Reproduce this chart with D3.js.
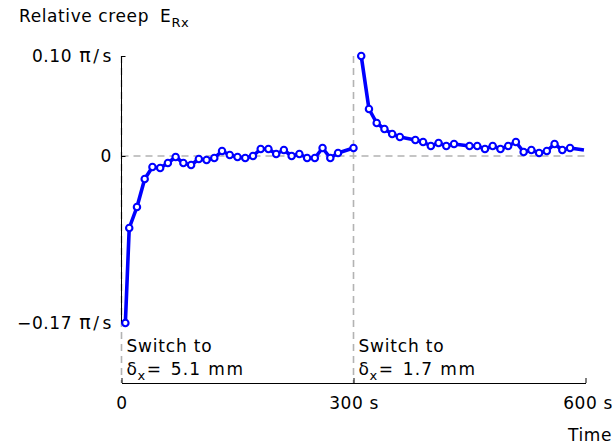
<!DOCTYPE html>
<html>
<head>
<meta charset="utf-8">
<script src="https://cdn.jsdelivr.net/npm/d3@7"></script>
<style>
  body { margin: 0; background: #fff; }
  text { font-family: "DejaVu Sans", sans-serif; fill: #000; }
</style>
</head>
<body>
<svg id="chart" width="613" height="447"></svg>
<script>
// Relative creep after each stiffness switch, sampled every 10 s
const phase1Times  = [5, 10, 20, 30, 40, 50, 60, 70, 80, 90, 100, 110, 120, 130, 140, 150,
                      160, 170, 180, 190, 200, 210, 220, 230, 240, 250, 260, 270, 280, 300];
const phase1Values = [-0.167, -0.072, -0.051, -0.023, -0.011, -0.012, -0.007, -0.001, -0.007, -0.009,
                      -0.003, -0.004, -0.002, 0.005, 0.001, -0.001, -0.002, 0.000, 0.007, 0.007,
                      0.002, 0.006, 0.000, 0.002, -0.002, -0.002, 0.008, -0.002, 0.003, 0.008];

const phase2Times  = [310, 320, 330, 340, 350, 360, 380, 390, 400, 410, 420, 430, 450, 460, 470,
                      480, 490, 500, 510, 520, 530, 540, 550, 560, 570, 580, 598];
const phase2Values = [0.100, 0.047, 0.033, 0.027, 0.022, 0.019, 0.016, 0.014, 0.010, 0.013, 0.010,
                      0.012, 0.010, 0.010, 0.007, 0.010, 0.007, 0.010, 0.014, 0.004, 0.006, 0.003,
                      0.005, 0.012, 0.006, 0.008, 0.006];

// Axis ticks
const xTicks = [0, 300, 600];
const xTickLabels = ["0", "300 s", "600 s"];
const yTicks = [-0.167, 0, 0.1];
const yTickLabels = ["\u22120.17", "0", "0.10"];
const yTickUnits = ["\u03c0/s", "", "\u03c0/s"];

// Switch annotations
const switchTimes = [0, 300];
const switchValues = ["5.1", "1.7"];

const svg = d3.select("#chart");
const x = d3.scaleLinear().domain([0, 600]).range([121.5, 585.5]);
const y = d3.scaleLinear().domain([-0.227, 0.1]).range([383, 56]);

const blue = "#0000ff";
const grey = "#b3b3b3";
const fs = 17;
const ls = 0.6;

// Reference lines: zero creep and switch instants
svg.append("line")
  .attr("x1", x(0)).attr("x2", x(600))
  .attr("y1", y(0)).attr("y2", y(0))
  .attr("stroke", grey).attr("stroke-width", 1.6).attr("stroke-dasharray", "7,5");

svg.selectAll("line.switch").data(switchTimes).join("line")
  .attr("class", "switch")
  .attr("x1", d => x(d)).attr("x2", d => x(d))
  .attr("y1", y(0.1)).attr("y2", y.range()[0])
  .attr("stroke", grey).attr("stroke-width", 1.6).attr("stroke-dasharray", "7,5");

// y axis: a frame spanning only the data range
const yAxis = svg.append("g")
  .attr("transform", `translate(${x(0)},0)`)
  .call(d3.axisLeft(y).tickValues(yTicks).tickSize(-4).tickPadding(9.5).tickFormat(""));
yAxis.select(".domain").remove();
yAxis.append("line")
  .attr("x1", 0).attr("x2", 0)
  .attr("y1", y(d3.max(yTicks))).attr("y2", y(d3.min(yTicks)))
  .attr("stroke", "#000");
// tick labels with the π/s unit
yAxis.selectAll(".tick text").each(function(d, i) {
  const t = d3.select(this).attr("font-size", fs).attr("letter-spacing", ls);
  t.append("tspan").text(yTickLabels[i]);
  if (yTickUnits[i]) {
    const [pi, slash, s] = Array.from(yTickUnits[i]);
    t.append("tspan").attr("dx", 7).attr("font-size", 19).text(pi);
    t.append("tspan").attr("dx", 2).text(slash);
    t.append("tspan").attr("dx", 3).text(s);
  }
});

// x axis
const xAxis = svg.append("g")
  .attr("transform", `translate(0,${y.range()[0]})`)
  .call(d3.axisBottom(x).tickValues(xTicks).tickSize(-5).tickSizeOuter(0).tickPadding(14)
    .tickFormat((d, i) => xTickLabels[i]));
xAxis.selectAll("text").attr("font-size", fs).attr("font-family", "DejaVu Sans").attr("letter-spacing", ls);
xAxis.selectAll(".tick").filter(d => d === 600).select("text").attr("dx", 2);

// Axis titles
const yTitle = svg.append("text").attr("x", 19).attr("y", 22).attr("font-size", fs).attr("letter-spacing", ls);
yTitle.append("tspan").text("Relative creep");
yTitle.append("tspan").attr("dx", 11).text("E");
yTitle.append("tspan").attr("dy", 5).attr("font-size", 13).text("Rx");

svg.append("text").attr("x", 612).attr("y", 441).attr("text-anchor", "end")
  .attr("font-size", fs).attr("letter-spacing", ls).text("Time");

// Switch annotations
switchTimes.forEach((t, i) => {
  svg.append("text").attr("x", x(t) + 5).attr("y", 352)
    .attr("font-size", fs).attr("letter-spacing", 0.8).text("Switch to");
  const l2 = svg.append("text").attr("x", x(t) + 5).attr("y", 375)
    .attr("font-size", fs).attr("letter-spacing", ls);
  l2.append("tspan").text("\u03b4");
  l2.append("tspan").attr("dy", 5).attr("font-size", 13).text("x");
  l2.append("tspan").attr("dy", -5).attr("dx", 1).text("=");
  l2.append("tspan").attr("dx", 9).attr("letter-spacing", 1.2).text(switchValues[i]);
  l2.append("tspan").attr("dx", 7).attr("letter-spacing", 1.6).text("mm");
});

// Creep curves
const line = d3.line().x(d => x(d.t)).y(d => y(d.v));
const phases = [
  phase1Times.map((t, i) => ({ t, v: phase1Values[i] })),
  phase2Times.map((t, i) => ({ t, v: phase2Values[i] }))
];

phases.forEach((pts, k) => {
  svg.append("path").datum(pts)
    .attr("d", line).attr("fill", "none")
    .attr("stroke", blue).attr("stroke-width", 3.6).attr("stroke-linejoin", "round");
  // the second record ends without a final sample marker
  const marked = k === 1 ? pts.slice(0, -1) : pts;
  svg.append("g").selectAll("circle").data(marked).join("circle")
    .attr("cx", d => x(d.t)).attr("cy", d => y(d.v)).attr("r", 3.2)
    .attr("fill", "#fff").attr("stroke", blue).attr("stroke-width", 2.1);
});
</script>
</body>
</html>
